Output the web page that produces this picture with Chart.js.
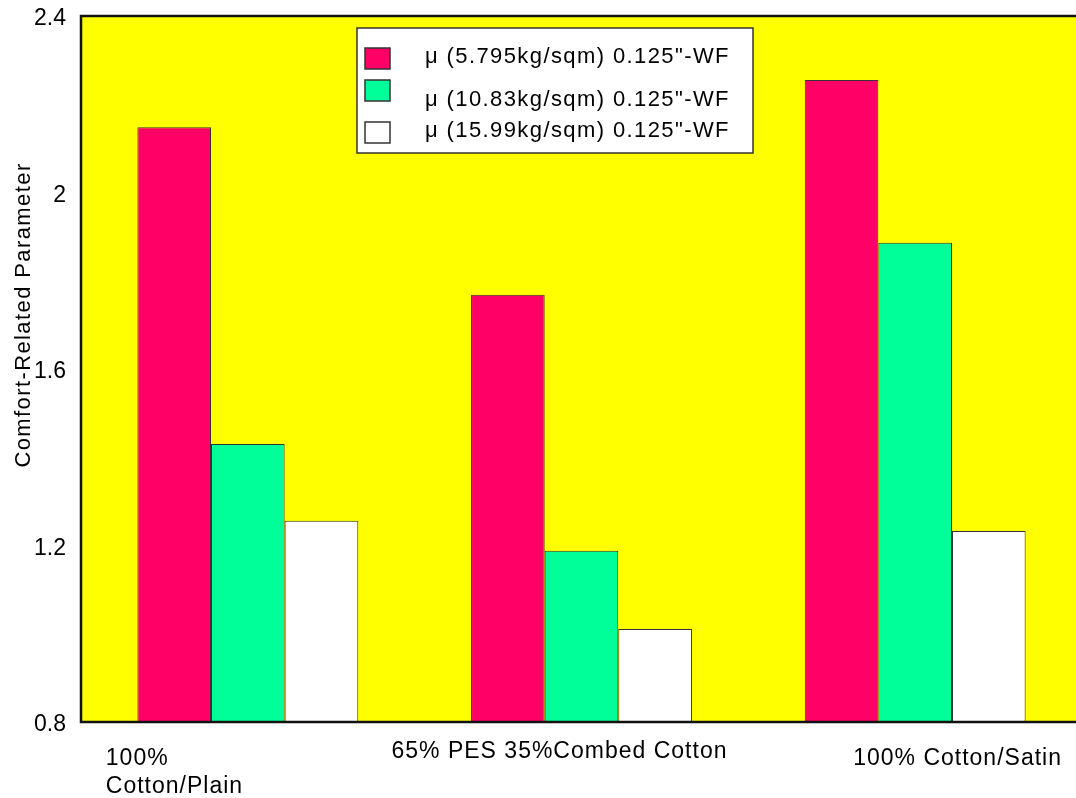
<!DOCTYPE html>
<html>
<head>
<meta charset="utf-8">
<script src="https://cdn.jsdelivr.net/npm/chart.js@4/dist/chart.umd.min.js"></script>
<style>
    html, body { margin: 0; padding: 0; background: #fff; overflow: hidden; }
    #wrap { position: relative; width: 1082px; height: 798px; }
</style>
</head>
<body>
<div id="wrap"><canvas id="comfort-chart"></canvas></div>
<script>
// fabric categories (first one wraps onto two lines)
const categories = [['100%', 'Cotton/Plain'], '65% PES 35%Combed Cotton', '100% Cotton/Satin'];

const seriesLabels = [
    'μ (5.795kg/sqm) 0.125"-WF',
    'μ (10.83kg/sqm) 0.125"-WF',
    'μ (15.99kg/sqm) 0.125"-WF'
];
const light = [2.148, 1.768, 2.255];
const medium = [1.430, 1.188, 1.886];
const heavy = [1.256, 1.011, 1.233];

const yTicks = [0.8, 1.2, 1.6, 2, 2.4];
const yTitle = 'Comfort-Related Parameter';

const FONT = '"Liberation Sans", Arial, sans-serif';

// where each category label sits relative to its tick
const labelPlacement = [
    {dx: -142, baselines: [765, 793]},
    {dx: -190, baselines: [758]},
    {dx: -62, baselines: [765]}
];

const plotFrame = {
    id: 'plotFrame',
    beforeDraw: function(chart) {
        const a = chart.chartArea, ctx = chart.ctx;
        ctx.save();
        ctx.fillStyle = '#ffff00';
        ctx.fillRect(a.left, a.top, a.right - a.left, a.bottom - a.top);
        ctx.restore();
    },
    afterDatasetsDraw: function(chart) {
        const a = chart.chartArea, ctx = chart.ctx;
        ctx.save();
        ctx.strokeStyle = '#111';
        ctx.lineWidth = 2.5;
        ctx.strokeRect(a.left, a.top, a.right - a.left + 4, a.bottom - a.top);
        ctx.restore();
    }
};

const boxLegend = {
    id: 'boxLegend',
    afterDraw: function(chart) {
        const ctx = chart.ctx;
        const rowSwatch = [48, 80, 122];
        const rowText = [63, 106, 137];
        ctx.save();
        ctx.fillStyle = '#fff';
        ctx.fillRect(357, 28, 396, 125);
        ctx.strokeStyle = '#333';
        ctx.lineWidth = 1.5;
        ctx.strokeRect(357, 28, 396, 125);
        ctx.font = '22px ' + FONT;
        ctx.textBaseline = 'alphabetic';
        ctx.textAlign = 'left';
        chart.data.datasets.forEach((ds, i) => {
            ctx.fillStyle = ds.backgroundColor;
            ctx.fillRect(365, rowSwatch[i], 25, 21);
            ctx.strokeStyle = '#333';
            ctx.lineWidth = 1.5;
            ctx.strokeRect(365, rowSwatch[i], 25, 21);
            ctx.fillStyle = '#000';
            ctx.letterSpacing = '1.4px';
            ctx.fillText(ds.label, 425, rowText[i]);
        });
        ctx.restore();
    }
};

const axisText = {
    id: 'axisText',
    afterDraw: function(chart) {
        const ctx = chart.ctx, x = chart.scales.x;
        ctx.save();
        ctx.fillStyle = '#000';
        ctx.textAlign = 'left';
        ctx.textBaseline = 'alphabetic';
        ctx.font = '23px ' + FONT;
        ctx.letterSpacing = '1px';
        categories.forEach((cat, i) => {
            const lines = Array.isArray(cat) ? cat : [cat];
            const p = labelPlacement[i];
            const cx = x.getPixelForValue(i) + p.dx;
            lines.forEach((line, j) => ctx.fillText(line, cx, p.baselines[j]));
        });
        // rotated y title
        ctx.font = '22px ' + FONT;
        ctx.letterSpacing = '1.4px';
        ctx.translate(30, 315);
        ctx.rotate(-Math.PI / 2);
        ctx.textAlign = 'center';
        ctx.fillText(yTitle, 0, 0);
        ctx.restore();
    }
};

new Chart(document.getElementById('comfort-chart'), {
    type: 'bar',
    data: {
        labels: categories,
        datasets: [{
            label: seriesLabels[0],
            data: light,
            backgroundColor: '#ff0066',
            borderColor: '#333',
            borderWidth: 1
        },{
            label: seriesLabels[1],
            data: medium,
            backgroundColor: '#00ff99',
            borderColor: '#333',
            borderWidth: 1
        },{
            label: seriesLabels[2],
            data: heavy,
            backgroundColor: '#ffffff',
            borderColor: '#333',
            borderWidth: 1
        }]
    },
    options: {
        responsive: true,
        maintainAspectRatio: false,
        animation: false,
        layout: {
            padding: {top: 16, right: 0, bottom: 0, left: 0}
        },
        datasets: {
            bar: {
                categoryPercentage: 0.662,
                barPercentage: 1
            }
        },
        plugins: {
            legend: {display: false},
            tooltip: {enabled: false}
        },
        scales: {
            x: {
                grid: {display: false, drawTicks: false},
                border: {display: false},
                ticks: {display: false},
                afterFit: function(scale) {
                    scale.height = 76;
                    scale.paddingLeft = 0;
                    scale.paddingRight = 0;
                }
            },
            y: {
                min: yTicks[0],
                max: yTicks[yTicks.length - 1],
                grid: {display: false, drawTicks: false},
                border: {display: false},
                afterBuildTicks: function(scale) {
                    scale.ticks = yTicks.map(v => ({value: v}));
                },
                ticks: {
                    color: '#000',
                    padding: 15,
                    labelOffset: 3,
                    font: {family: FONT, size: 23},
                    callback: (v) => String(v)
                },
                afterFit: function(scale) {
                    scale.width = 81;
                    scale.paddingTop = 0;
                    scale.paddingBottom = 0;
                }
            }
        }
    },
    plugins: [plotFrame, boxLegend, axisText]
});
</script>
</body>
</html>
